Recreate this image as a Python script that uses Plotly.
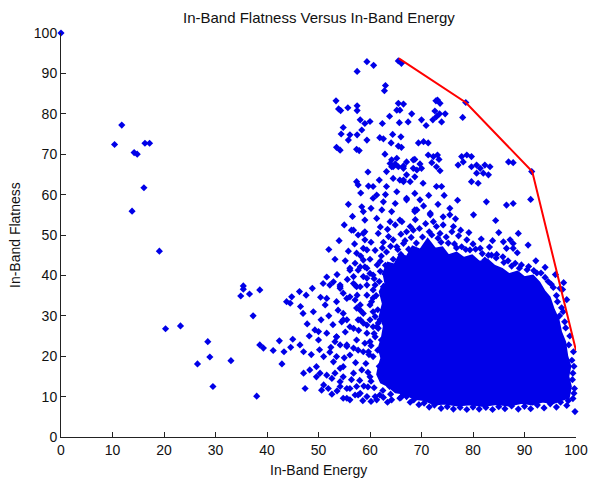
import plotly.graph_objects as go

# ---- data ----
title_text = "In-Band Flatness Versus In-Band Energy"
x_label = "In-Band Energy"
y_label = "In-Band Flatness"
tick_vals = [0, 10, 20, 30, 40, 50, 60, 70, 80, 90, 100]

# individually visible points (In-Band Energy, In-Band Flatness)
points = [
    (0, 100), (11.8, 77.2), (10.4, 72.4), (14.2, 70.4), (14.8, 70.0), (16.3, 72.7), (17.2, 72.7),
    (16.1, 61.7), (13.8, 55.9), (19.1, 46.0), (35.4, 37.4), (35.4, 36.6), (34.9, 34.9), (36.6, 35.4),
    (20.3, 26.8), (23.2, 27.5), (28.5, 23.6), (28.9, 19.8), (26.5, 18.1), (33.0, 18.9), (29.5, 12.5),
    (37.3, 30.0), (38.0, 10.1), (38.6, 36.4),
    (44.8, 34.7), (46.3, 36.0), (47.6, 35.1), (43.8, 33.5), (44.5, 33.1), (46.5, 32.3), (47.0, 30.6),
    (38.6, 22.8), (39.3, 22.0), (41.2, 21.4), (42.4, 23.8), (43.3, 21.1), (44.6, 22.2), (45.0, 24.2),
    (46.4, 22.8), (47.1, 21.1), (42.9, 18.1),
    (59.4, 92.9), (60.7, 92.0), (57.5, 90.5), (65.5, 93.1), (66.1, 92.5), (63.0, 87.0), (62.8, 85.7),
    (53.4, 83.2), (53.9, 81.2), (54.3, 80.8), (55.7, 81.5), (57.5, 82.0), (57.5, 80.8), (58.1, 78.5),
    (59.0, 77.6), (60.0, 78.1), (62.4, 77.6), (63.8, 79.4), (65.5, 82.6), (66.5, 82.4), (65.2, 80.9),
    (65.8, 80.9), (68.1, 80.0), (65.7, 77.8), (67.4, 78.0), (70.0, 78.5), (70.9, 77.1), (72.2, 78.5),
    (72.9, 79.3), (72.8, 83.2), (72.6, 80.7), (54.8, 76.6), (54.4, 75.0), (56.1, 74.8), (55.8, 73.5),
    (58.4, 76.0), (57.5, 74.8), (59.4, 73.5), (61.9, 74.1), (62.6, 73.8), (64.4, 74.9), (66.0, 74.3),
    (64.1, 72.8), (65.5, 72.0), (66.1, 71.7), (53.5, 71.7), (54.2, 71.0), (57.4, 71.2), (57.9, 70.9),
    (62.9, 70.0), (69.4, 72.8), (70.4, 73.1), (71.3, 72.8), (71.3, 69.8), (72.3, 69.4), (73.1, 69.8),
    (64.2, 68.6), (64.9, 67.6), (65.5, 66.9), (66.5, 67.1), (65.2, 69.0), (67.1, 68.1), (68.7, 68.7),
    (69.7, 67.6), (72.0, 67.9), (72.9, 66.9),
    (73.1, 83.4), (73.6, 82.6), (73.5, 80.0), (74.6, 80.0), (73.9, 78.0), (78.6, 82.8), (78.0, 79.1),
    (73.4, 68.7), (63.9, 67.7), (64.5, 66.9), (66.5, 66.5), (68.4, 68.6), (69.1, 66.1), (70.0, 66.5),
    (73.6, 65.9), (77.8, 69.4), (78.8, 69.8), (79.7, 69.4), (78.1, 68.1), (77.1, 67.3), (79.7, 66.9),
    (80.7, 67.3), (81.4, 66.5), (82.3, 67.3), (83.3, 66.9), (80.7, 65.3), (82.0, 65.3), (83.0, 64.9),
    (86.9, 68.1), (87.8, 67.9), (91.4, 65.7),
    (86.5, 57.4), (87.8, 57.8), (91.2, 58.8), (80.1, 55.0), (85.9, 48.3), (87.2, 48.8), (87.8, 47.9),
    (86.5, 46.7), (87.8, 46.7), (90.7, 47.5), (96.9, 36.8),
    (79.7, 63.2), (81.0, 62.8), (72.9, 62.0), (73.9, 62.0), (70.3, 62.8), (69.7, 58.7), (68.7, 55.8),
    (67.1, 59.1), (66.5, 63.2), (75.5, 56.6), (74.2, 54.5), (71.7, 55.4), (72.3, 53.3), (74.2, 52.5),
    (75.9, 50.8), (78.8, 48.8), (77.8, 47.1), (79.4, 46.3), (81.4, 46.7), (83.0, 45.0), (82.3, 43.8),
    (57.4, 63.2), (57.7, 62.4), (59.7, 62.1), (60.6, 62.0), (61.3, 59.9), (60.6, 59.1), (62.6, 58.2),
    (63.2, 65.7), (64.2, 66.9), (64.5, 64.0), (63.2, 62.0), (65.2, 60.7), (66.5, 63.6), (58.4, 57.0),
    (58.7, 55.8), (59.0, 53.7), (61.3, 54.1), (64.2, 55.8), (63.9, 53.3), (64.9, 52.5), (66.2, 53.3),
    (62.3, 56.2), (55.0, 52.5), (56.8, 51.2), (57.7, 50.0), (59.0, 50.8), (59.0, 48.8), (61.6, 50.4),
    (58.7, 46.7), (59.4, 46.3), (57.4, 45.5), (64.5, 48.8), (65.2, 47.1), (66.5, 47.9), (67.1, 50.8),
    (68.4, 51.2), (53.2, 44.0), (56.1, 41.8), (57.1, 43.0), (57.7, 41.3), (58.7, 43.8), (59.0, 42.1),
    (60.0, 40.5), (56.8, 39.7), (54.2, 37.6), (57.1, 37.6), (59.4, 39.3),
    (68.4, 66.5), (67.1, 64.9), (68.7, 64.4), (65.8, 63.6), (67.8, 63.2), (68.7, 60.3), (67.1, 58.7),
    (68.7, 56.2), (64.9, 57.8), (65.8, 53.7), (67.8, 52.1), (71.7, 55.0), (75.5, 55.0), (72.9, 52.1),
    (69.1, 56.2), (73.6, 50.4), (76.2, 52.1), (56.4, 51.2), (58.7, 50.4),
    (50.9, 38.0), (52.2, 37.6), (52.9, 38.4), (54.2, 37.2), (56.8, 38.0), (58.1, 37.2), (59.4, 37.6),
    (54.8, 35.6), (56.1, 34.7), (57.5, 35.1), (51.6, 34.3), (53.5, 33.5), (51.3, 32.7), (53.8, 31.4),
    (54.8, 30.6), (57.4, 31.9), (58.7, 30.6), (60.6, 31.0), (61.9, 29.0), (61.3, 27.3), (59.4, 27.7),
    (57.7, 29.0), (56.8, 26.9), (54.5, 28.5), (55.5, 29.0), (49.3, 26.5), (50.0, 26.1), (51.6, 25.7),
    (53.5, 24.8), (53.2, 23.6), (54.2, 22.8), (51.0, 19.9), (49.6, 17.4), (47.1, 15.8), (48.3, 16.6),
    (50.3, 15.8), (49.6, 14.9), (51.6, 15.3), (52.6, 14.5), (51.0, 12.9), (51.9, 12.0), (50.6, 11.6),
    (47.4, 12.0), (52.9, 18.6), (54.2, 17.0), (54.8, 14.9), (54.2, 12.5), (55.5, 12.0), (57.4, 12.5),
    (54.8, 9.6), (56.1, 9.2), (57.1, 10.4), (58.1, 10.8), (61.0, 10.0), (61.9, 10.4), (64.2, 9.2),
    (65.8, 9.6), (67.1, 10.0), (55.5, 22.8), (56.8, 22.0), (57.7, 21.5), (56.1, 20.3), (59.0, 23.2),
    (59.7, 21.1), (60.0, 23.6), (61.0, 24.8), (61.6, 26.9), (63.2, 27.3), (64.5, 26.5), (59.4, 25.7),
    (58.7, 28.2), (60.0, 29.0), (61.0, 29.8), (62.6, 31.4), (63.2, 33.1), (63.9, 34.7), (62.6, 37.2),
    (65.2, 36.4), (60.3, 33.5), (58.1, 32.7), (57.1, 33.9), (59.4, 35.1), (60.6, 36.4), (57.4, 37.2),
    (54.2, 36.8), (55.5, 34.3), (58.1, 31.4), (60.0, 32.7), (54.8, 29.0), (56.1, 27.3), (58.1, 29.0),
    (60.6, 27.3), (53.5, 24.8), (55.5, 22.4), (57.4, 24.0), (58.7, 21.1), (60.6, 19.9), (53.5, 19.9),
    (54.8, 17.4), (56.8, 15.8), (58.4, 16.6), (60.0, 14.9), (54.2, 13.7), (56.1, 12.0), (57.7, 10.4),
    (59.4, 10.0), (61.3, 9.2), (55.5, 9.6), (56.1, 41.3), (58.1, 42.1), (59.4, 41.8), (58.7, 39.7),
    (60.6, 40.1),
    (99.5, 21.1), (99.6, 17.5), (99.3, 14.2), (99.7, 12.0), (99.4, 9.5), (99.8, 6.3), (98.8, 25.0),
    (97.8, 28.5), (97.2, 32.0), (96.2, 35.0), (95.2, 37.8), (94.0, 39.5), (92.4, 40.6), (90.5, 41.4),
    (89.0, 41.8), (87.5, 42.3), (86.0, 43.2), (84.5, 44.3), (83.6, 45.0), (80.5, 46.5), (76.8, 46.8),
    (75.2, 48.0), (73.2, 49.2), (71.5, 50.8), (70.2, 49.5), (69.0, 48.0), (67.5, 46.5), (66.0, 45.2),
    (64.5, 44.0), (63.0, 42.5), (62.0, 41.0), (61.8, 38.5), (61.2, 35.0), (61.5, 31.5), (62.2, 24.0),
    (61.5, 21.5), (61.8, 17.5), (62.8, 14.5), (63.8, 12.5), (66.5, 10.5), (68.5, 9.2), (70.5, 8.4),
    (72.5, 7.9), (75.0, 7.5), (77.5, 7.3), (80.0, 7.4), (82.5, 7.3), (85.0, 7.5), (87.5, 7.7),
    (90.0, 7.6), (92.5, 7.9), (95.0, 8.2), (97.0, 8.6), (98.5, 9.0), (98.3, 11.0), (97.4, 36.5),
    (96.8, 30.0),
    (62.0, 43.5), (63.2, 45.8), (64.0, 47.2), (65.4, 46.4), (66.8, 48.6), (68.0, 49.4), (69.6, 51.6),
    (70.8, 52.8), (72.0, 50.0), (73.8, 48.2), (74.8, 49.5), (76.4, 47.8), (77.2, 49.8), (78.6, 46.4),
    (80.0, 47.8), (81.8, 45.4), (83.2, 47.0), (84.6, 45.2), (85.8, 44.6), (86.8, 43.6), (88.2, 43.0),
    (89.4, 42.6), (90.8, 42.2), (91.8, 41.2), (93.2, 40.6), (94.6, 38.5), (95.6, 37.0), (96.4, 33.5),
    (97.5, 31.0), (98.0, 27.0), (98.6, 22.8), (99.2, 19.0), (99.4, 15.8), (99.6, 10.8), (98.2, 7.8),
    (96.2, 7.4), (93.8, 7.2), (91.2, 7.0), (88.8, 6.9), (86.2, 7.0), (83.8, 6.8), (81.2, 6.9),
    (78.8, 6.8), (76.2, 6.9), (73.8, 7.1), (71.5, 7.4), (69.5, 8.0), (67.8, 8.6), (66.0, 9.8),
    (64.0, 10.6), (62.5, 11.5), (60.8, 12.2), (60.2, 13.8), (59.6, 16.0), (59.2, 18.2), (59.8, 20.4),
    (60.2, 22.6), (60.8, 25.6), (61.6, 28.2), (60.6, 34.4), (61.0, 37.6), (60.8, 39.2), (61.4, 42.6),
    (62.2, 44.8), (62.4, 46.8), (63.6, 49.6), (66.0, 50.2), (68.8, 53.8), (70.4, 57.2), (71.4, 59.8),
    (73.2, 57.6), (76.6, 54.0), (77.6, 51.2), (79.2, 50.6), (81.6, 49.0), (83.8, 48.6), (85.0, 50.6),
    (88.6, 45.6), (92.2, 43.6), (94.0, 42.0), (96.0, 40.2), (97.6, 38.2), (98.2, 34.0), (88.8, 50.4),
    (84.4, 53.6), (77.0, 58.6), (74.4, 59.8), (82.6, 58.2), (63.0, 60.0), (61.8, 63.6), (59.6, 65.6),
    (58.2, 60.4), (55.8, 57.6), (56.6, 54.6), (60.2, 56.6), (62.0, 52.0), (63.4, 51.4),
    (52.0, 30.0), (50.5, 29.0), (52.8, 27.8), (55.2, 26.0), (57.8, 26.4), (52.4, 22.2), (50.2, 21.6),
    (48.6, 20.4), (52.2, 21.0), (55.0, 19.6), (57.2, 18.4), (58.0, 14.0), (56.4, 14.2), (53.2, 15.8),
    (52.6, 10.6), (53.6, 11.4), (58.8, 12.6), (59.6, 12.4), (62.6, 9.8), (63.4, 8.6), (60.2, 8.8),
    (58.6, 9.0), (50.0, 24.0), (48.2, 25.0), (47.8, 28.0), (49.0, 31.0), (50.4, 34.6), (48.8, 36.8),
    (51.6, 39.6), (53.6, 40.2), (55.6, 39.0), (55.2, 43.6), (58.2, 44.8), (60.0, 44.0), (61.0, 46.2),
    (60.2, 48.2), (62.6, 48.2), (57.0, 47.8), (55.8, 46.0), (52.0, 46.4), (54.0, 48.6),
]
energy = [p[0] for p in points]
flatness = [p[1] for p in points]

# outline of the saturated (overplotted) core of the point cloud
core_outline = [
    (62.5, 40.0), (63.5, 43.0), (64.8, 42.5), (65.8, 45.0), (67.2, 44.5), (68.3, 47.0), (69.8, 46.2),
    (71.2, 48.8), (72.6, 46.5), (74.0, 46.8), (75.2, 44.8), (76.8, 45.5), (78.2, 44.2), (79.8, 44.8),
    (81.2, 43.2), (82.8, 43.8), (84.2, 42.2), (85.6, 41.5), (87.0, 40.2), (88.6, 40.8), (90.0, 39.4),
    (91.6, 39.8), (92.8, 38.2), (93.8, 36.0), (94.8, 34.5), (95.6, 31.5), (96.5, 29.0), (97.0, 26.0),
    (97.8, 23.5), (98.2, 20.0), (98.8, 17.5), (98.4, 15.0), (98.9, 12.5), (98.5, 9.8), (97.0, 9.2),
    (95.5, 8.5), (93.5, 8.9), (91.5, 8.2), (89.5, 8.6), (87.0, 7.9), (84.5, 8.3), (82.0, 7.8),
    (79.5, 8.2), (77.0, 7.9), (74.5, 8.4), (72.5, 8.2), (70.5, 9.3), (68.5, 9.6), (67.0, 10.8),
    (65.0, 11.2), (63.5, 12.8), (62.2, 13.6), (61.5, 15.5), (61.8, 17.5), (62.3, 19.5), (61.8, 22.0),
    (62.4, 24.5), (62.8, 27.5), (62.0, 30.0), (62.6, 33.0), (62.0, 36.0), (62.8, 38.0),
]
core_energy = [p[0] for p in core_outline]
core_flatness = [p[1] for p in core_outline]

# upper boundary (red polyline)
hull_energy = [65.6, 78.6, 91.5, 100.0]
hull_flatness = [93.7, 82.8, 65.7, 21.4]

# ---- styles ----
BLUE = "rgb(0,0,232)"
FONT = "Liberation Sans, Arial, sans-serif"

fig = go.Figure()
fig.add_trace(go.Scatter(
    x=core_energy, y=core_flatness, mode="lines", fill="toself",
    fillcolor=BLUE, line=dict(color=BLUE, width=3), hoverinfo="skip", showlegend=False))
fig.add_trace(go.Scatter(
    x=energy, y=flatness, mode="markers",
    marker=dict(symbol="diamond", size=5.5, color=BLUE, line=dict(width=0)),
    cliponaxis=False, showlegend=False))
fig.add_trace(go.Scatter(
    x=hull_energy, y=hull_flatness, mode="lines",
    line=dict(color="rgb(255,0,0)", width=2), cliponaxis=False, showlegend=False))

axis_common = dict(
    range=[0, 100], tickmode="array", tickvals=tick_vals, ticktext=[str(v) for v in tick_vals],
    ticks="inside", ticklen=5, tickwidth=1, tickcolor="#222", automargin=False,
    showline=True, linecolor="#222", linewidth=1, mirror=False,
    showgrid=False, zeroline=False, tickfont=dict(family=FONT, size=14, color="#111"),
)

fig.update_layout(
    width=589, height=483,
    margin=dict(l=61, r=13, t=33, b=46),
    paper_bgcolor="white", plot_bgcolor="white",
    xaxis=dict(**axis_common),
    yaxis=dict(**axis_common),
    annotations=[
        dict(text=title_text, xref="paper", yref="paper", x=0.5, y=1, yshift=16,
             showarrow=False, yanchor="middle", font=dict(family=FONT, size=15, color="#111")),
        dict(text=x_label, xref="paper", yref="paper", x=0.5, y=0, yshift=-33,
             showarrow=False, yanchor="middle", font=dict(family=FONT, size=14, color="#111")),
        dict(text=y_label, xref="paper", yref="paper", x=0, xshift=-46, y=0.5, textangle=-90,
             showarrow=False, xanchor="center", font=dict(family=FONT, size=14, color="#111")),
    ],
)

# remove the default page margin so the figure fills the window exactly
fig.write_html("out.html", config={"displayModeBar": False},
               post_script="document.body.style.margin='0';document.body.style.overflow='hidden';")
